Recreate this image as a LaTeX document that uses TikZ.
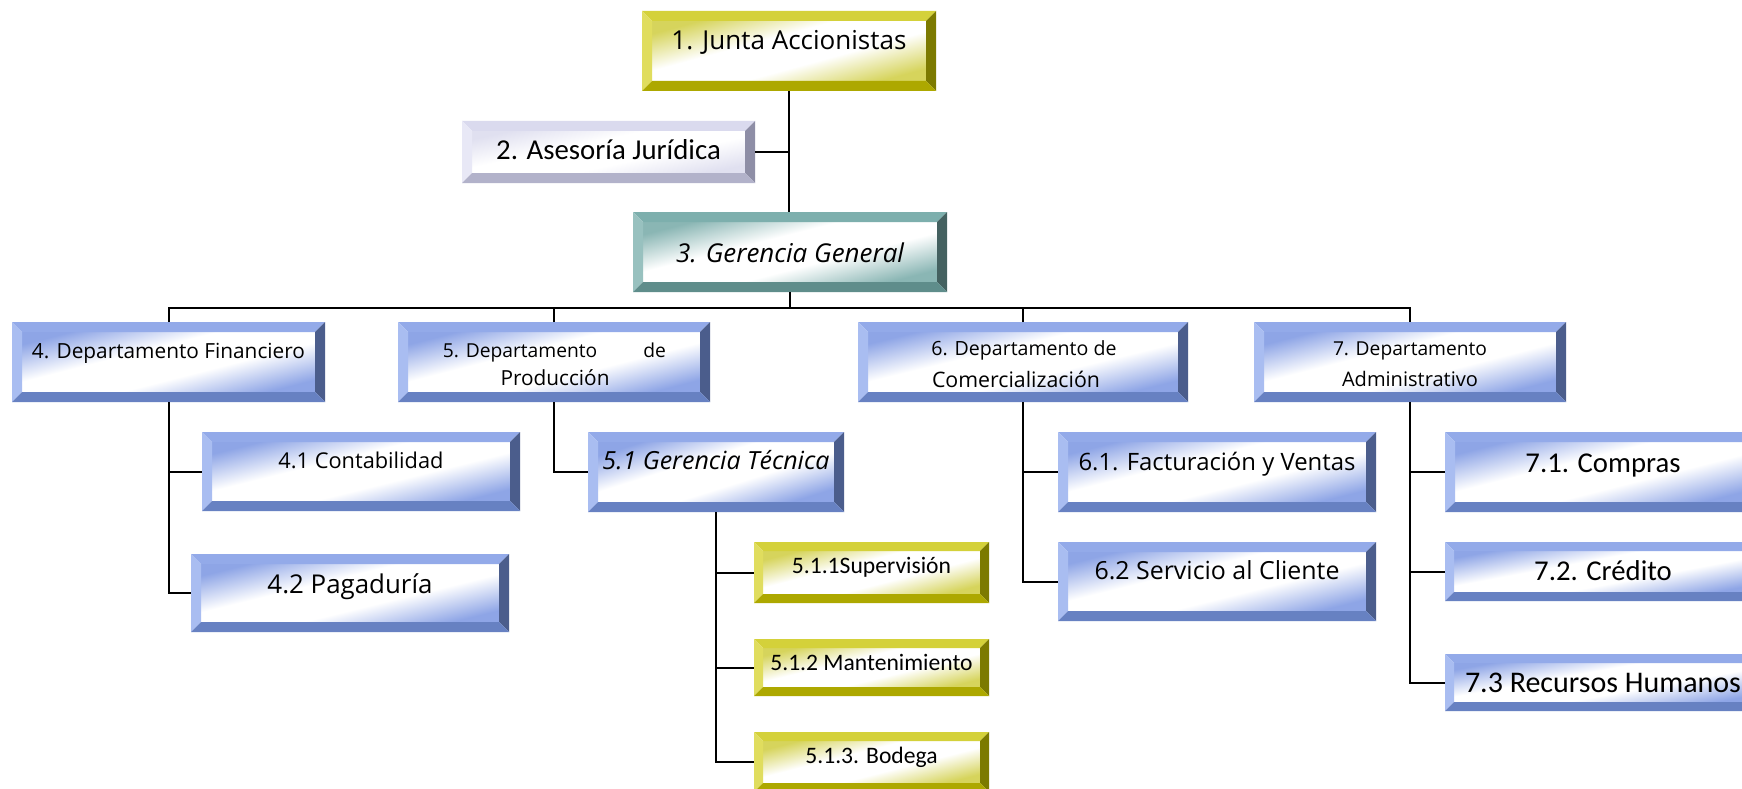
\documentclass[tikz,border=0pt]{standalone}
\usepackage{fontspec}
\usepackage{graphicx}
\setmainfont{Open Sans}
\newfontfamily\calfont{Carlito}
\usetikzlibrary{calc}

% bevel palettes: T top, L left, R right, B bottom, In inner tint
\definecolor{blueT}{HTML}{93AAE9}
\definecolor{blueL}{HTML}{A9BDF1}
\definecolor{blueR}{HTML}{4B5D8C}
\definecolor{blueB}{HTML}{6781C2}
\definecolor{blueIn}{HTML}{8EA5E6}
\definecolor{oliveT}{HTML}{D4D13A}
\definecolor{oliveL}{HTML}{E0DD5E}
\definecolor{oliveR}{HTML}{7C7A00}
\definecolor{oliveB}{HTML}{ADA800}
\definecolor{oliveIn}{HTML}{D6D45C}
\definecolor{tealT}{HTML}{7DAFAD}
\definecolor{tealL}{HTML}{98C1BF}
\definecolor{tealR}{HTML}{446160}
\definecolor{tealB}{HTML}{5F8D8B}
\definecolor{tealIn}{HTML}{8AB6B4}
\definecolor{lavT}{HTML}{DADAEE}
\definecolor{lavL}{HTML}{E8E8F6}
\definecolor{lavR}{HTML}{8E8EA6}
\definecolor{lavB}{HTML}{B2B2CA}
\definecolor{lavIn}{HTML}{E0E0F0}

% inner wash: tinted corners, white band along the falling diagonal
\colorlet{washtint}{blueIn}
\pgfdeclareverticalshading[washtint]{wash}{100bp}{%
  color(0bp)=(washtint); color(25bp)=(washtint);
  color(42bp)=(white); color(58bp)=(white);
  color(75bp)=(washtint); color(100bp)=(washtint)}

\tikzset{
  boxframe/.style={rectangle, inner sep=0pt, outer sep=0pt},
  link/.style={draw=black, line width=2pt},
  lbl/.style={anchor=base, inner sep=0pt, text=black},
}

% bevelled box: name, x1, y1, x2, y2, palette, bevel width
\newcommand\bevbox[7]{%
  \node[boxframe, minimum width={(#4-#2)*1pt}, minimum height={(#5-#3)*1pt}]
    (#1) at ({(#2+#4)/2},{(#3+#5)/2}) {};
  \colorlet{washtint}{#6In}%
  \shade[shading=wash, shading angle={atan((#5-#3)/(#4-#2))}]
    ($(#1.north west)+(#7,#7)$) rectangle ($(#1.south east)+(-#7,-#7)$);
  \fill[#6T] (#1.north west) -- (#1.north east) -- ($(#1.north east)+(-#7,#7)$)
    -- ($(#1.north west)+(#7,#7)$) -- cycle;
  \fill[#6L] (#1.north west) -- ($(#1.north west)+(#7,#7)$)
    -- ($(#1.south west)+(#7,-#7)$) -- (#1.south west) -- cycle;
  \fill[#6R] (#1.north east) -- (#1.south east) -- ($(#1.south east)+(-#7,-#7)$)
    -- ($(#1.north east)+(-#7,#7)$) -- cycle;
  \fill[#6B] (#1.south west) -- (#1.south east) -- ($(#1.south east)+(-#7,-#7)$)
    -- ($(#1.south west)+(#7,-#7)$) -- cycle;
}

% label scaled to a given width: name, x, baseline y, width, font, text
\newcommand\fitlabel[6]{%
  \node[lbl, font=#5] (#1) at (#2,#3) {\resizebox{#4pt}{!}{#6}};
}
% label at a given size: name, x, baseline y, size, font, text
\newcommand\sizelabel[6]{%
  \node[lbl, font={#5\fontsize{#4pt}{#4pt}\selectfont}] (#1) at (#2,#3) {#6};
}

\begin{document}
\begin{tikzpicture}[x=1pt, y=-1pt]
\clip (0,0) rectangle (1742,789);
\fill[white] (0,0) rectangle (1742,789);

% boxes
\bevbox{J}{642}{11}{936}{91}{olive}{10}
\bevbox{A}{462}{121}{755}{183}{lav}{10}
\bevbox{G}{633}{212}{947}{292}{teal}{10}
\bevbox{D4}{12}{322}{325}{402}{blue}{10}
\bevbox{D5}{398}{322}{710}{402}{blue}{10}
\bevbox{D6}{858}{322}{1188}{402}{blue}{10}
\bevbox{D7}{1254}{322}{1566}{402}{blue}{10}
\bevbox{C41}{202}{432}{520}{511}{blue}{10}
\bevbox{C42}{191}{554}{509}{632}{blue}{10}
\bevbox{T51}{588}{432}{844}{512}{blue}{10}
\bevbox{S511}{754}{542}{989}{603}{olive}{9}
\bevbox{S512}{754}{639}{989}{696}{olive}{9}
\bevbox{S513}{754}{732}{989}{792}{olive}{9}
\bevbox{F61}{1058}{432}{1376}{512}{blue}{10}
\bevbox{F62}{1058}{542}{1376}{621}{blue}{10}
\bevbox{P71}{1445}{432}{1761}{512}{blue}{10}
\bevbox{P72}{1445}{542}{1761}{601}{blue}{9}
\bevbox{P73}{1445}{654}{1761}{711}{blue}{9}

% connectors
\coordinate (bus) at (790,308);
\draw[link] (J.south) -- (J.south |- G.north);
\draw[link] (A.east) -- (A.east -| J.south);
\draw[link] (G.south) -- (G.south |- bus);
\draw[link] (D4.north) |- (bus) -| (D7.north);
\draw[link] (D5.north) -- (D5.north |- bus);
\draw[link] (D6.north) -- (D6.north |- bus);
\draw[link] (D4.south) |- (C41.west);
\draw[link] (D4.south) |- (C42.west);
\draw[link] (D5.south) |- (T51.west);
\draw[link] (T51.south) |- (S511.west);
\draw[link] (T51.south) |- (S512.west);
\draw[link] (T51.south) |- (S513.west);
\draw[link] (D6.south) |- (F61.west);
\draw[link] (D6.south) |- (F62.west);
\draw[link] (D7.south) |- (P71.west);
\draw[link] (D7.south) |- (P72.west);
\draw[link] (D7.south) |- (P73.west);

% labels
\fitlabel{Jt}{789}{50}{235}{\rmfamily}{1. Junta Accionistas}
\sizelabel{At}{608.5}{160}{28.8}{\calfont}{2. Asesoría Jurídica}
\fitlabel{Gt}{790}{262}{228}{\itshape}{3. Gerencia General}
\fitlabel{D4t}{168.5}{358}{273}{\rmfamily}{4. Departamento Financiero}
\fitlabel{D5a}{554.5}{357}{223}{\rmfamily}{5. Departamento\hspace{2.4em}de}
\fitlabel{D5b}{555}{385}{109}{\rmfamily}{Producción}
\fitlabel{D6a}{1024}{355}{185}{\rmfamily}{6. Departamento de}
\fitlabel{D6b}{1016}{387}{168}{\rmfamily}{Comercialización}
\fitlabel{D7a}{1410}{355}{154}{\rmfamily}{7. Departamento}
\fitlabel{D7b}{1410}{386}{136}{\rmfamily}{Administrativo}
\fitlabel{C41t}{361}{468}{165}{\rmfamily}{4.1 Contabilidad}
\fitlabel{C42t}{350}{593}{165}{\rmfamily}{4.2 Pagaduría}
\fitlabel{T51t}{716}{469}{227}{\itshape}{5.1 Gerencia Técnica}
\fitlabel{F61t}{1217}{470}{277}{\rmfamily}{6.1. Facturación y Ventas}
\fitlabel{F62t}{1217}{579}{245}{\rmfamily}{6.2 Servicio al Cliente}
\sizelabel{P71t}{1603}{472}{28.7}{\calfont}{7.1. Compras}
\sizelabel{P72t}{1603}{580}{28.7}{\calfont}{7.2. Crédito}
\sizelabel{P73t}{1603}{692}{30}{\calfont}{7.3 Recursos Humanos}
\sizelabel{S511t}{871.5}{573}{23.6}{\calfont}{5.1.1Supervisión}
\sizelabel{S512t}{871.5}{670}{23.6}{\calfont}{5.1.2 Mantenimiento}
\sizelabel{S513t}{871.5}{763}{23.6}{\calfont}{5.1.3. Bodega}
\end{tikzpicture}
\end{document}
